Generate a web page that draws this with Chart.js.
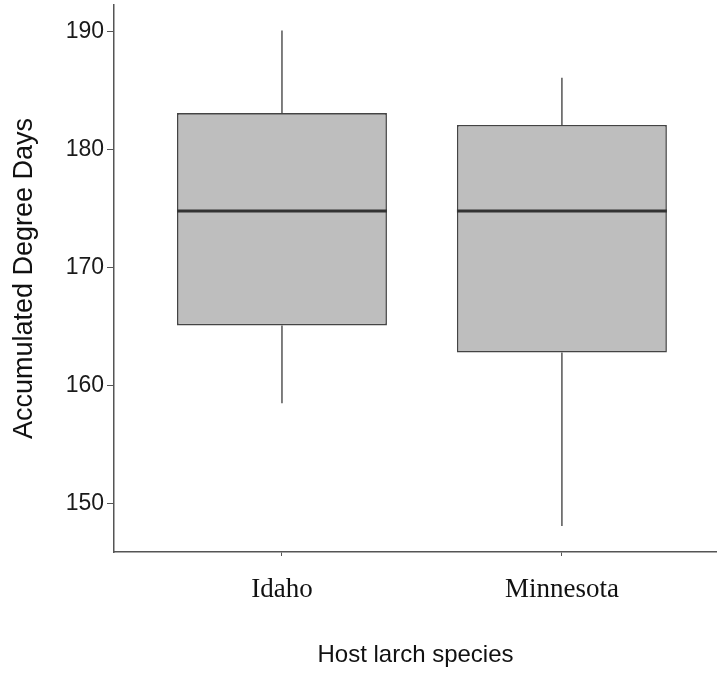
<!DOCTYPE html>
<html>
<head>
<meta charset="utf-8">
<script src="https://cdn.jsdelivr.net/npm/chart.js@4/dist/chart.umd.min.js"></script>
<style>
  html, body { margin: 0; padding: 0; background: #fff; }
  #wrap { width: 717px; height: 676px; }
</style>
</head>
<body>
<div id="wrap"><canvas id="chart"></canvas></div>
<script>
// ── data ──
const categories = ['Idaho', 'Minnesota'];
const whiskerLow  = [158.5, 148.1];
const q1          = [165.1, 162.8];
const median      = [174.8, 174.8];
const q3          = [183.1, 182.1];
const whiskerHigh = [190.1, 186.1];
const yTickValues = [150, 160, 170, 180, 190];

const AXIS = '#555';

// whiskers behind the boxes, median on top
const boxExtras = {
  id: 'boxExtras',
  beforeDatasetsDraw(chart) {
    const { ctx, scales: { x, y } } = chart;
    ctx.save();
    ctx.strokeStyle = AXIS;
    ctx.lineWidth = 1.5;
    categories.forEach((c, i) => {
      const px = x.getPixelForValue(i + 1);
      ctx.beginPath();
      ctx.moveTo(px, y.getPixelForValue(whiskerLow[i]));
      ctx.lineTo(px, y.getPixelForValue(q1[i]));
      ctx.moveTo(px, y.getPixelForValue(q3[i]));
      ctx.lineTo(px, y.getPixelForValue(whiskerHigh[i]));
      ctx.stroke();
    });
    ctx.restore();
  },
  afterDatasetsDraw(chart) {
    const { ctx, scales: { y } } = chart;
    const meta = chart.getDatasetMeta(0);
    ctx.save();
    ctx.strokeStyle = '#333';
    ctx.lineWidth = 3;
    meta.data.forEach((bar, i) => {
      const half = bar.width / 2;
      const py = y.getPixelForValue(median[i]);
      ctx.beginPath();
      ctx.moveTo(bar.x - half, py);
      ctx.lineTo(bar.x + half, py);
      ctx.stroke();
    });
    ctx.restore();
  }
};

new Chart(document.getElementById('chart'), {
  type: 'bar',
  data: {
    datasets: [{
      data: categories.map((c, i) => ({ x: i + 1, y: [q1[i], q3[i]] })),
      backgroundColor: '#bebebe',
      borderColor: '#444',
      borderWidth: 1.6,
      borderSkipped: false,
      categoryPercentage: 1,
      barPercentage: 0.75
    }]
  },
  options: {
    responsive: true, maintainAspectRatio: false,
    animation: false,
    layout: { padding: { top: 5, right: 0, bottom: 0, left: 0 } },
    plugins: { legend: { display: false }, tooltip: { enabled: false } },
    scales: {
      x: {
        type: 'linear', min: 0.4, max: 2.554, offset: false,
        afterBuildTicks: s => { s.ticks = categories.map((c, i) => ({ value: i + 1 })); },
        afterFit: s => { s.height = 124; s.paddingLeft = 0; s.paddingRight = 0; },
        border: { display: true, color: AXIS, width: 1.5 },
        grid: { offset: false, drawOnChartArea: false, drawTicks: true, tickLength: 4, color: AXIS },
        ticks: {
          callback: v => categories[v - 1],
          font: { family: 'Liberation Serif', size: 27 },
          color: '#111', padding: 18, maxRotation: 0, autoSkip: false
        },
        title: {
          display: true, text: 'Host larch species',
          font: { family: 'Liberation Sans', size: 24 },
          color: '#111', padding: { top: 0, bottom: 6 }
        }
      },
      y: {
        min: 145.9, max: 192.26,
        afterBuildTicks: s => { s.ticks = yTickValues.map(v => ({ value: v })); },
        afterFit: s => { s.width = 114; s.paddingTop = 0; s.paddingBottom = 0; },
        border: { display: true, color: AXIS, width: 1.5 },
        grid: { drawOnChartArea: false, drawTicks: true, tickLength: 7, color: AXIS },
        ticks: {
          font: { family: 'Liberation Sans', size: 23 },
          color: '#1a1a1a', padding: 3
        },
        title: {
          display: true, text: 'Accumulated Degree Days',
          font: { family: 'Liberation Sans', size: 27 },
          color: '#111', padding: { top: 8, bottom: 0 }
        }
      }
    }
  },
  plugins: [boxExtras]
});
</script>
</body>
</html>
